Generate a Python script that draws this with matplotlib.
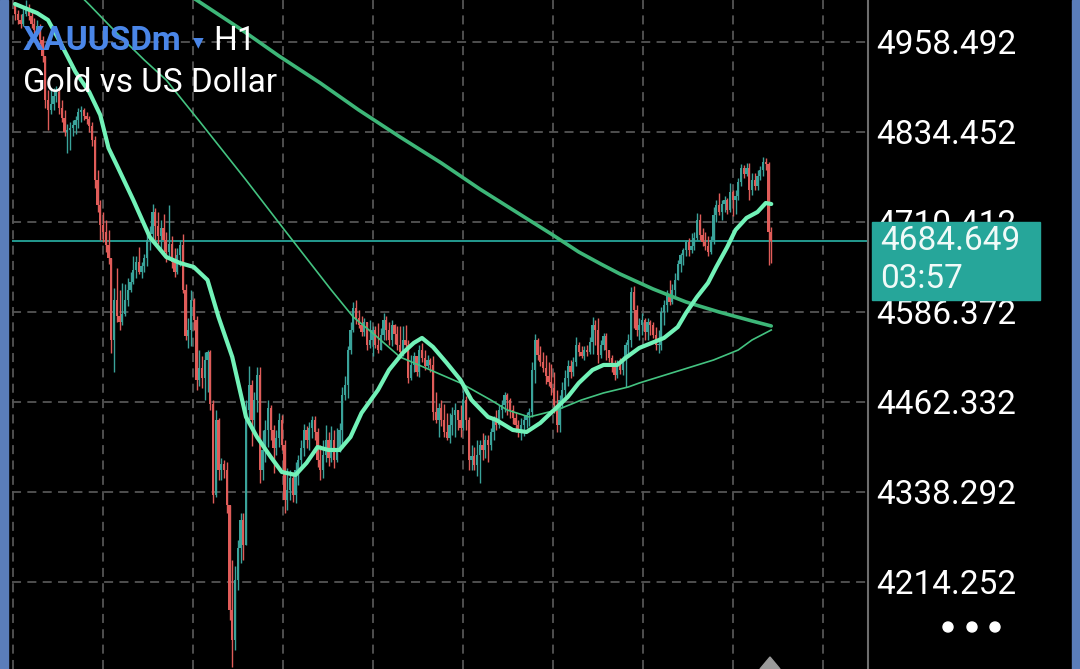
"""XAUUSDm H1 chart, dark mobile terminal style."""

import numpy as np
import matplotlib
matplotlib.use("Agg")
import matplotlib.pyplot as plt
from matplotlib.patches import Rectangle, Circle, Polygon

symbol = "XAUUSDm"
timeframe = "H1"
description = "Gold vs US Dollar"
last_price = 4684.649
countdown = "03:57"
price_ticks = [4214.252, 4338.292, 4462.332, 4586.372, 4710.412, 4834.452, 4958.492]

first_open = 5008.0
closes = [
    4997.1, 4988.8, 4983.3, 4997.1, 5005.4, 4994.3, 4983.3, 4975.1, 4980.6, 4961.3,
    4939.2, 4878.6, 4864.8, 4873.1, 4884.1, 4889.6, 4867.6, 4853.8, 4834.5, 4837.2,
    4840.0, 4844.1, 4851.0, 4862.0, 4864.8, 4856.5, 4852.4, 4842.7, 4823.5, 4768.3,
    4733.9, 4706.3, 4696.7, 4678.7, 4660.8, 4547.8, 4602.9, 4580.9, 4572.6, 4583.6,
    4602.9, 4616.7, 4627.7, 4644.3, 4655.3, 4641.5, 4649.8, 4660.8, 4685.6, 4693.9,
    4724.2, 4704.9, 4691.1, 4702.2, 4685.6, 4669.1, 4680.1, 4655.3, 4641.5, 4665.0,
    4678.7, 4616.7, 4553.3, 4561.6, 4602.9, 4575.4, 4492.7, 4509.2, 4495.4, 4520.2,
    4531.3, 4459.6, 4334.2, 4437.6, 4368.6, 4376.9, 4368.6, 4320.4, 4175.7, 4134.4,
    4217.0, 4261.1, 4299.7, 4265.3, 4451.3, 4485.8, 4437.6, 4465.1, 4499.6, 4368.6,
    4396.2, 4423.8, 4454.1, 4423.8, 4399.0, 4412.7, 4437.6, 4403.1, 4327.3, 4341.1,
    4357.6, 4334.2, 4368.6, 4382.4, 4399.0, 4423.8, 4410.0, 4426.5, 4437.6, 4421.0,
    4382.4, 4368.6, 4389.3, 4410.0, 4385.2, 4410.0, 4382.4, 4396.2, 4423.8, 4472.0,
    4485.8, 4534.0, 4561.6, 4591.9, 4578.1, 4568.5, 4558.8, 4572.6, 4540.9, 4547.8,
    4561.6, 4540.9, 4534.0, 4554.7, 4575.4, 4561.6, 4547.8, 4568.5, 4556.1, 4540.9,
    4531.3, 4547.8, 4540.9, 4495.4, 4513.4, 4525.8, 4503.7, 4534.0, 4523.0, 4512.0,
    4520.2, 4513.4, 4448.6, 4437.6, 4454.1, 4437.6, 4421.0, 4412.7, 4430.7, 4444.4,
    4451.3, 4437.6, 4426.5, 4465.1, 4437.6, 4382.4, 4387.9, 4375.5, 4389.3, 4403.1,
    4396.2, 4410.0, 4403.1, 4421.0, 4437.6, 4430.7, 4451.3, 4458.2, 4472.0, 4465.1,
    4451.3, 4440.3, 4430.7, 4421.0, 4430.7, 4437.6, 4444.4, 4448.6, 4506.5, 4547.8,
    4527.1, 4517.5, 4509.2, 4498.2, 4489.9, 4481.7, 4458.2, 4430.7, 4465.1, 4478.9,
    4495.4, 4512.0, 4503.7, 4517.5, 4540.9, 4531.3, 4525.8, 4534.0, 4531.3, 4545.1,
    4568.5, 4561.6, 4527.1, 4540.9, 4553.3, 4534.0, 4523.0, 4513.4, 4499.6, 4513.4,
    4506.5, 4520.2, 4540.9, 4547.8, 4614.0, 4589.2, 4561.6, 4568.5, 4575.4, 4558.8,
    4572.6, 4568.5, 4554.7, 4540.9, 4540.9, 4586.4, 4596.0, 4609.8, 4600.2, 4616.7,
    4630.5, 4652.6, 4665.0, 4671.8, 4682.9, 4671.8, 4677.4, 4688.4, 4713.2, 4692.5,
    4682.9, 4677.4, 4669.1, 4685.6, 4720.1, 4733.9, 4724.2, 4735.2, 4740.8, 4727.0,
    4751.8, 4740.8, 4746.3, 4765.6, 4784.9, 4776.6, 4784.9, 4754.5, 4768.3, 4760.1,
    4773.8, 4782.1, 4793.1, 4790.4, 4696.7, 4684.649,
]
highs = [
    5010.9, 5002.6, 4997.1, 5005.4, 5016.4, 5010.9, 4999.9, 4991.6, 4988.8, 4983.3,
    4966.8, 4939.2, 4892.4, 4895.1, 4895.1, 4897.9, 4895.1, 4878.6, 4864.8, 4845.5,
    4848.3, 4851.0, 4856.5, 4867.6, 4870.3, 4867.6, 4862.0, 4856.5, 4848.3, 4829.0,
    4782.1, 4740.8, 4724.2, 4713.2, 4699.4, 4660.8, 4619.5, 4647.0, 4616.7, 4626.4,
    4625.0, 4633.3, 4641.5, 4663.6, 4663.6, 4676.0, 4655.3, 4666.3, 4702.2, 4704.9,
    4735.2, 4729.7, 4724.2, 4713.2, 4721.5, 4696.7, 4733.9, 4691.1, 4674.6, 4674.6,
    4685.6, 4693.9, 4625.0, 4578.1, 4616.7, 4605.7, 4580.9, 4534.0, 4525.8, 4531.3,
    4534.0, 4534.0, 4465.1, 4451.3, 4440.0, 4385.2, 4382.4, 4379.7, 4320.4, 4244.6,
    4236.3, 4272.2, 4309.4, 4309.0, 4465.1, 4512.0, 4492.7, 4476.1, 4510.6, 4510.0,
    4423.8, 4437.6, 4465.1, 4458.2, 4430.0, 4423.8, 4447.2, 4444.4, 4410.0, 4371.4,
    4368.6, 4365.9, 4379.7, 4389.3, 4410.0, 4432.0, 4429.3, 4434.8, 4443.1, 4443.1,
    4426.5, 4403.1, 4410.0, 4430.7, 4421.0, 4429.3, 4423.8, 4426.5, 4433.4, 4483.0,
    4498.2, 4539.5, 4572.6, 4600.2, 4602.9, 4589.2, 4580.9, 4578.1, 4572.6, 4575.4,
    4567.1, 4567.1, 4571.2, 4564.4, 4585.0, 4580.9, 4572.6, 4575.4, 4569.9, 4567.1,
    4567.1, 4567.1, 4568.5, 4547.8, 4527.1, 4531.3, 4525.8, 4540.9, 4543.7, 4534.0,
    4527.1, 4523.0, 4525.8, 4476.1, 4461.0, 4465.1, 4459.6, 4447.2, 4447.2, 4455.5,
    4461.0, 4451.3, 4458.2, 4478.9, 4470.6, 4441.7, 4403.1, 4400.3, 4410.0, 4410.0,
    4419.6, 4416.9, 4416.9, 4426.5, 4443.1, 4451.3, 4458.2, 4465.1, 4476.1, 4474.8,
    4467.9, 4458.2, 4448.6, 4437.6, 4440.3, 4444.4, 4448.6, 4454.1, 4517.5, 4556.1,
    4550.6, 4539.5, 4531.3, 4527.1, 4517.5, 4514.7, 4503.7, 4478.9, 4472.0, 4489.9,
    4506.5, 4520.2, 4520.2, 4524.4, 4551.9, 4545.1, 4539.5, 4539.5, 4540.9, 4551.9,
    4579.5, 4575.4, 4578.1, 4547.8, 4557.5, 4558.0, 4534.0, 4527.1, 4520.2, 4520.2,
    4523.0, 4525.8, 4545.1, 4556.1, 4620.9, 4622.0, 4596.0, 4578.1, 4585.0, 4578.1,
    4578.1, 4575.4, 4572.6, 4565.7, 4561.6, 4593.3, 4602.9, 4616.7, 4630.5, 4625.0,
    4640.2, 4658.1, 4667.7, 4674.6, 4685.6, 4688.4, 4695.3, 4696.7, 4722.8, 4721.5,
    4702.2, 4696.7, 4691.1, 4691.1, 4731.1, 4740.8, 4750.4, 4740.8, 4746.3, 4743.5,
    4764.2, 4754.5, 4754.5, 4771.1, 4790.4, 4789.0, 4791.8, 4791.8, 4778.0, 4778.0,
    4782.1, 4787.6, 4800.0, 4798.6, 4793.0, 4703.5,
]
lows = [
    4988.8, 4983.3, 4977.8, 4980.6, 4994.3, 4988.8, 4977.8, 4969.5, 4969.5, 4955.8,
    4931.0, 4867.6, 4837.2, 4859.3, 4864.8, 4875.8, 4859.3, 4848.3, 4829.0, 4805.5,
    4809.7, 4829.0, 4831.7, 4840.0, 4848.3, 4851.0, 4845.5, 4834.5, 4815.2, 4757.3,
    4724.2, 4685.6, 4682.9, 4669.1, 4652.6, 4529.9, 4503.7, 4572.6, 4561.6, 4568.0,
    4580.9, 4594.7, 4614.0, 4625.0, 4633.3, 4638.8, 4633.3, 4641.5, 4649.8, 4671.8,
    4685.6, 4685.6, 4680.1, 4671.8, 4666.3, 4655.3, 4662.0, 4647.0, 4634.6, 4638.8,
    4649.8, 4612.6, 4547.8, 4536.8, 4539.5, 4561.6, 4478.9, 4484.4, 4481.7, 4465.1,
    4476.1, 4451.3, 4323.2, 4331.4, 4354.9, 4354.9, 4357.6, 4309.4, 4161.9, 4097.1,
    4120.6, 4203.3, 4240.5, 4244.6, 4265.3, 4437.6, 4401.7, 4423.8, 4448.6, 4350.7,
    4354.9, 4379.7, 4400.3, 4410.0, 4364.5, 4389.3, 4400.3, 4396.2, 4309.4, 4313.5,
    4327.3, 4324.5, 4323.2, 4348.0, 4371.4, 4387.9, 4399.0, 4396.2, 4412.7, 4410.0,
    4372.8, 4354.9, 4357.6, 4379.7, 4374.2, 4379.7, 4371.4, 4379.7, 4393.5, 4399.0,
    4465.1, 4467.9, 4528.0, 4558.8, 4569.9, 4564.4, 4553.3, 4553.3, 4534.0, 4536.8,
    4525.8, 4536.8, 4529.9, 4534.0, 4547.8, 4547.8, 4540.9, 4539.5, 4542.3, 4534.0,
    4525.8, 4526.0, 4536.8, 4488.5, 4492.7, 4503.7, 4498.2, 4496.8, 4517.5, 4506.5,
    4509.2, 4503.7, 4437.6, 4433.4, 4414.1, 4429.3, 4414.1, 4410.0, 4405.9, 4416.9,
    4414.1, 4423.8, 4414.1, 4423.8, 4423.8, 4368.6, 4368.6, 4368.6, 4360.4, 4350.7,
    4382.4, 4385.2, 4379.7, 4396.2, 4410.0, 4423.8, 4426.5, 4440.3, 4448.6, 4444.4,
    4440.3, 4432.0, 4421.0, 4414.1, 4410.0, 4415.5, 4426.5, 4429.3, 4441.7, 4488.5,
    4520.2, 4512.0, 4503.7, 4487.2, 4484.4, 4472.0, 4447.2, 4421.0, 4421.0, 4454.1,
    4467.9, 4484.4, 4495.4, 4498.2, 4512.0, 4525.8, 4523.0, 4520.2, 4525.8, 4528.5,
    4528.5, 4540.9, 4516.1, 4523.0, 4534.0, 4520.2, 4517.5, 4503.7, 4492.7, 4495.4,
    4501.0, 4499.6, 4483.0, 4524.4, 4538.2, 4564.4, 4553.3, 4547.8, 4554.7, 4547.8,
    4547.8, 4554.7, 4550.6, 4534.0, 4529.9, 4534.0, 4568.5, 4586.4, 4596.0, 4597.4,
    4608.5, 4630.5, 4641.5, 4651.2, 4663.6, 4663.6, 4667.7, 4671.8, 4685.6, 4685.6,
    4677.4, 4671.8, 4663.6, 4666.3, 4680.1, 4710.4, 4720.1, 4713.2, 4724.2, 4721.5,
    4724.2, 4718.7, 4721.5, 4740.8, 4760.1, 4771.1, 4773.8, 4740.8, 4747.7, 4754.5,
    4754.5, 4768.3, 4773.8, 4782.1, 4651.2, 4653.9,
]

# moving averages read at a few bars
fast_ma_bar = [0, 8, 12, 16, 22, 27, 31, 34, 37, 43, 49, 55, 60, 65, 70, 74, 79, 82, 84, 88,
               93, 97, 102, 106, 110, 114, 118, 122, 126, 132, 136, 141, 145, 148, 152, 157,
               162, 166, 172, 175, 181, 186, 191, 196, 201, 205, 210, 214, 219, 222, 227,
               236, 241, 244, 248, 252, 255, 259, 262, 266, 270, 273, 275]
fast_ma = [5010.9, 4998.5, 4988.8, 4961.3, 4917.2, 4889.6, 4857.9, 4812.4, 4788.9, 4740.8,
           4689.8, 4662.2, 4653.9, 4648.4, 4630.5, 4579.5, 4524.4, 4474.8, 4441.7, 4414.1,
           4386.6, 4365.9, 4361.8, 4378.3, 4400.3, 4396.2, 4396.2, 4414.1, 4447.2, 4478.9,
           4506.5, 4529.9, 4543.7, 4550.6, 4538.2, 4516.1, 4492.7, 4465.1, 4441.7, 4437.6,
           4423.8, 4421.0, 4433.4, 4451.3, 4469.3, 4488.5, 4506.5, 4513.4, 4513.4, 4523.0,
           4536.8, 4550.6, 4565.7, 4585.0, 4607.1, 4626.4, 4648.4, 4676.0, 4699.4, 4716.0,
           4724.2, 4736.6, 4735.2]
mid_ma_bar = [15, 27, 37, 47, 55, 67, 84, 98, 115, 123, 130, 140, 151, 162, 173, 179, 187,
              197, 206, 214, 223, 227, 254, 263, 268, 275]
mid_ma = [5055.0, 5010.0, 4970.9, 4933.7, 4906.1, 4849.6, 4768.3, 4699.4, 4616.7, 4579.5,
          4557.5, 4524.4, 4506.5, 4488.5, 4465.1, 4451.3, 4441.7, 4451.3, 4465.1, 4474.8,
          4483.0, 4488.5, 4520.2, 4534.0, 4547.8, 4561.6]
slow_ma_bar = [50, 66, 82, 96, 111, 125, 140, 155, 169, 184, 195, 205, 213, 220, 232, 244,
               256, 268, 275]
slow_ma = [5050.0, 5016.4, 4976.4, 4939.2, 4902.0, 4864.8, 4827.6, 4791.8, 4755.9, 4720.1,
           4693.9, 4669.1, 4652.6, 4638.8, 4618.1, 4600.2, 4586.4, 4574.0, 4567.1]

BULL, BEAR = "#3aa39a", "#e05c59"
W, H = 1080, 669
plt.rcParams["font.family"] = ["Roboto", "DejaVu Sans"]

fig = plt.figure(figsize=(W / 100, H / 100), dpi=100, facecolor="black")
ax = fig.add_axes([12 / W, 0, (868 - 12) / W, 1], facecolor="black")

c = np.array(closes)
o = np.r_[first_open, c[:-1]]
hi = np.maximum(np.array(highs), np.maximum(o, c))
lo = np.minimum(np.array(lows), np.minimum(o, c))
idx = np.arange(len(c))
col = np.where(c >= o, BULL, BEAR)

ax.vlines(idx, lo, hi, colors=col, linewidth=1.0, zorder=3)
ax.bar(idx, np.maximum(np.abs(c - o), 0.8), bottom=np.minimum(o, c), width=0.85,
       color=col, linewidth=0, zorder=3)

ax.plot(slow_ma_bar, slow_ma, color="#3db678", linewidth=2.6, zorder=4, solid_capstyle="round")
ax.plot(mid_ma_bar, mid_ma, color="#44c381", linewidth=1.2, zorder=4)
ax.plot(fast_ma_bar, fast_ma, color="#72f2b8", linewidth=3.0, zorder=5,
        solid_capstyle="round", solid_joinstyle="round")
ax.axhline(last_price, color="#26a69a", linewidth=1.3, zorder=2)

# scale: 90 px between price levels, bars every 2.75 px
px = (price_ticks[1] - price_ticks[0]) / 90.0
top = price_ticks[-1] + 42 * px
ax.set_ylim(top - H * px, top)
bar_px = 2.75
x0 = -3 / bar_px
ax.set_xlim(x0, x0 + (868 - 12) / bar_px)
ax.set_xticks([x0 + (0.7 + 90 * k) / bar_px for k in range(10)])
ax.tick_params(axis="x", length=0, labelbottom=False)

ax.yaxis.tick_right()
ax.set_yticks(price_ticks)
ax.set_yticklabels([f"{v:.3f}" for v in price_ticks])
ax.tick_params(axis="y", length=0, pad=6, labelsize=24, labelcolor="white")
ax.grid(True, color="#555555", linestyle=(0, (5, 3.5)), linewidth=1.3, zorder=1)
ax.set_axisbelow(True)
for side in ["left", "top", "bottom"]:
    ax.spines[side].set_visible(False)
ax.spines["right"].set_color("#6e6e6e")
ax.spines["right"].set_linewidth(1.5)

fig.text(23 / W, 1 - 50 / H, symbol, fontsize=24, fontweight="bold", color="#4a86e8", va="baseline")
fig.text(193 / W, 1 - 46 / H, "▼", fontsize=10, color="#4a86e8", va="baseline", family="DejaVu Sans")
fig.text(213 / W, 1 - 50 / H, timeframe, fontsize=24, color="white", va="baseline")
fig.text(23 / W, 1 - 92 / H, description, fontsize=24, color="white", va="baseline")

ov = fig.add_axes([0, 0, 1, 1], facecolor="none")
ov.set_xlim(0, W); ov.set_ylim(H, 0); ov.axis("off")
ov.add_patch(Rectangle((0, 0), 8, H, color="#5a7dba"))
ov.add_patch(Rectangle((1072, 0), 8, H, color="#5a7dba"))
ov.add_patch(Rectangle((872, 222), 168, 78, color="#26a69a"))
ov.text(880, 241, f"{last_price:.3f}", fontsize=24, color="#f0faf8", va="center")
ov.text(880, 279, countdown, fontsize=24, color="#f0faf8", va="center")
for cx in (948, 972, 995):
    ov.add_patch(Circle((cx, 627), 5, color="white"))
ov.add_patch(Polygon([(760, 669), (770, 657), (780, 669)], color="#9a9a9a"))

fig.savefig("out.png", dpi=100, facecolor="black")
